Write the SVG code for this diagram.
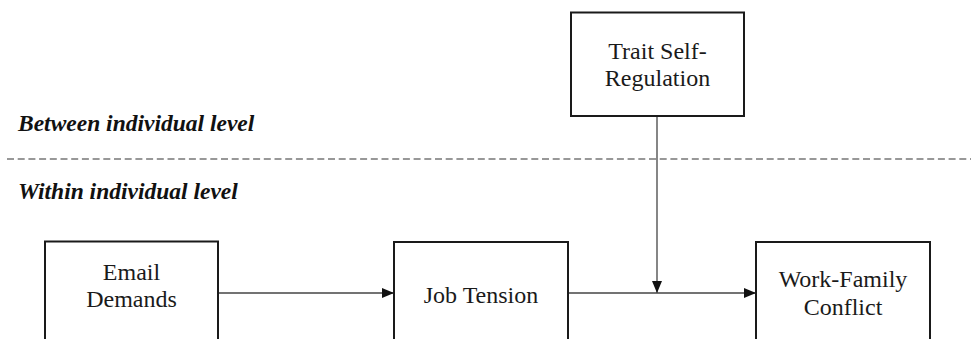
<svg xmlns="http://www.w3.org/2000/svg" width="971" height="339" viewBox="0 0 971 339">
<defs>
<style>
.box{fill:#fff;stroke:#1a1a1a;stroke-width:2}
.t{font-family:"Liberation Serif","Times New Roman",serif;font-size:24px;fill:#1a1a1a;text-anchor:middle}
.lvl{font-family:"Liberation Serif","Times New Roman",serif;font-size:23.5px;font-weight:bold;font-style:italic;fill:#111}
.conn{stroke:#444;stroke-width:1.3;fill:none}
</style>
<marker id="ah" viewBox="0 0 12 10" refX="12" refY="5" markerWidth="12" markerHeight="10" markerUnits="userSpaceOnUse" orient="auto">
<path d="M0,0 L12,5 L0,10 Z" fill="#111"/>
</marker>
</defs>
<rect width="971" height="339" fill="#fff"/>
<text class="lvl" x="18" y="131">Between individual level</text>
<line x1="7" y1="159" x2="971" y2="159" stroke="#777" stroke-width="1.5" stroke-dasharray="7,3.7"/>
<text class="lvl" x="18" y="199">Within individual level</text>
<g id="connectors">
<line class="conn" x1="657" y1="116" x2="657" y2="293" marker-end="url(#ah)"/>
<line class="conn" x1="218" y1="293" x2="394" y2="293" marker-end="url(#ah)"/>
<line class="conn" x1="568" y1="293" x2="756" y2="293" marker-end="url(#ah)"/>
</g>
<g id="trait">
<rect class="box" x="571" y="12.5" width="173" height="103.5"/>
<text class="t" x="657.5" y="59">Trait Self-</text>
<text class="t" x="657.5" y="86">Regulation</text>
</g>
<g id="email">
<rect class="box" x="45" y="241.5" width="173" height="110"/>
<text class="t" x="131.5" y="280">Email</text>
<text class="t" x="131.5" y="307">Demands</text>
</g>
<g id="job">
<rect class="box" x="394" y="242" width="174" height="110"/>
<text class="t" x="481" y="303">Job Tension</text>
</g>
<g id="wfc">
<rect class="box" x="756" y="242" width="174" height="110"/>
<text class="t" x="843" y="287">Work-Family</text>
<text class="t" x="843" y="315">Conflict</text>
</g>
</svg>
